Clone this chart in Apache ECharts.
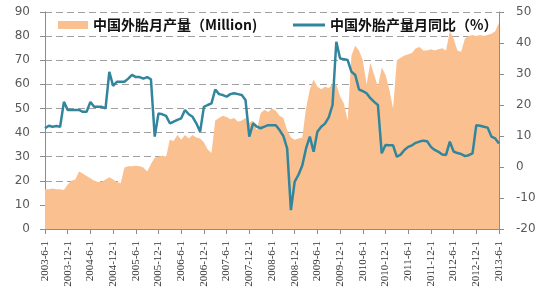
<!DOCTYPE html>
<html>
<head>
<meta charset="utf-8">
<script src="https://cdn.jsdelivr.net/npm/echarts@6/dist/echarts.min.js"></script>
<style>
html,body{margin:0;padding:0;background:#fff;}
#c{width:550px;height:300px;}
</style>
</head>
<body>
<div id="c"></div>
<script>
var categories = [
 '2003-6-1','2003-7-1','2003-8-1','2003-9-1','2003-10-1','2003-11-1','2003-12-1',
 '2004-1-1','2004-2-1','2004-3-1','2004-4-1','2004-5-1','2004-6-1','2004-7-1','2004-8-1','2004-9-1','2004-10-1','2004-11-1','2004-12-1',
 '2005-1-1','2005-2-1','2005-3-1','2005-4-1','2005-5-1','2005-6-1','2005-7-1','2005-8-1','2005-9-1','2005-10-1','2005-11-1','2005-12-1',
 '2006-1-1','2006-2-1','2006-3-1','2006-4-1','2006-5-1','2006-6-1','2006-7-1','2006-8-1','2006-9-1','2006-10-1','2006-11-1','2006-12-1',
 '2007-1-1','2007-2-1','2007-3-1','2007-4-1','2007-5-1','2007-6-1','2007-7-1','2007-8-1','2007-9-1','2007-10-1','2007-11-1','2007-12-1',
 '2008-1-1','2008-2-1','2008-3-1','2008-4-1','2008-5-1','2008-6-1','2008-7-1','2008-8-1','2008-9-1','2008-10-1','2008-11-1','2008-12-1',
 '2009-1-1','2009-2-1','2009-3-1','2009-4-1','2009-5-1','2009-6-1','2009-7-1','2009-8-1','2009-9-1','2009-10-1','2009-11-1','2009-12-1',
 '2010-1-1','2010-2-1','2010-3-1','2010-4-1','2010-5-1','2010-6-1','2010-7-1','2010-8-1','2010-9-1','2010-10-1','2010-11-1','2010-12-1',
 '2011-1-1','2011-2-1','2011-3-1','2011-4-1','2011-5-1','2011-6-1','2011-7-1','2011-8-1','2011-9-1','2011-10-1','2011-11-1','2011-12-1',
 '2012-1-1','2012-2-1','2012-3-1','2012-4-1','2012-5-1','2012-6-1','2012-7-1','2012-8-1','2012-9-1','2012-10-1','2012-11-1','2012-12-1',
 '2013-1-1','2013-2-1','2013-3-1','2013-4-1','2013-5-1','2013-6-1'
];

// monthly output, Million (left axis)
var production = [
 16.5,16.5,16.8,16.5,16.5,16.2,18.5,
 20,20.5,23.8,23,22,21,20,19.5,19.6,20.5,21.5,20.5,
 19.5,19,25.5,26,26,26.2,26,25.5,23.8,27,29.5,30,
 30.5,30,37,36.5,39,37,39,37.5,39,38,37.5,36,
 33,31.5,45,46,47,46.5,45.5,46,44.5,45,46,44,
 45,41,48,49.5,48.5,50,49,47,46,41,38,37,
 37.5,38,50,58,62,59,58,59,58.5,60,60,55,
 52,45,72,76,74,70,60,69,64,59,67,64,
 58,50,70,71,72,72.5,73,75,75.5,74,74,74.5,
 74,74.5,75,74,82,79,74,73.5,79,80,80.5,80,
 80.5,80,80.5,81,82,85.5
];

// year-on-year change, % (right axis)
var yoy = [
 12.5,13.3,13,13.2,13,21,18.4,
 18.4,18.4,18.4,17.8,17.8,21,19.4,19.4,19.4,18.9,30.7,26.2,
 27.5,27.5,27.5,28.5,29.7,29,29,28.5,29,28.3,9.8,17.3,
 17,16.5,14.1,14.6,15.2,15.7,18.4,17,16.2,14.1,11.4,19.4,
 20,20.5,25,23.5,23.2,22.7,23.5,23.8,23.5,23.2,21.6,9.8,
 14.1,13,12.5,13,13.5,13.5,13.5,11.9,10,6,-13.9,-4.7,
 -2.5,0.5,6,9.8,4.9,11.4,13,14,16,20,40.4,35,
 34.8,34.5,30.7,29.7,25,24.5,23.8,22.2,21,20,4.4,7.1,
 7,7,3.3,4,5.5,6.5,7,7.8,8.2,8.5,8.3,6.5,
 5.5,4.9,4,3.9,8.2,5,4.5,4.2,3.5,3.8,4.4,13.5,
 13.3,13,12.7,9.8,9.2,7.6
];

var leftTicks = {min: 0, max: 90, interval: 10};
var rightTicks = {min: -20, max: 50, interval: 10};
var seriesNames = ['中国外胎月产量（Million)', '中国外胎产量月同比（%）'];

var chart = echarts.init(document.getElementById('c'), null, {renderer: 'canvas'});
var axisGray = '#8c8c8c';
var labelColor = '#595959';
chart.setOption({
  animation: false,
  backgroundColor: '#ffffff',
  grid: {left: 45, right: 51, top: 12, bottom: 71, containLabel: false},
  legend: [
    {
      left: 53, top: 13, icon: 'rect', itemWidth: 30, itemHeight: 8, itemGap: 0,
      data: [seriesNames[0]],
      textStyle: {fontSize: 14, fontWeight: 'bold', color: '#111', fontFamily: 'Noto Sans CJK SC'}
    },
    {
      left: 288, top: 13, icon: 'rect', itemWidth: 32, itemHeight: 3, itemGap: 0,
      data: [seriesNames[1]],
      textStyle: {fontSize: 14, fontWeight: 'bold', color: '#111', fontFamily: 'Noto Sans CJK SC'}
    }
  ],
  xAxis: {
    type: 'category',
    data: categories,
    boundaryGap: false,
    axisLine: {lineStyle: {color: axisGray, width: 1}},
    axisTick: {interval: 5, length: 5, lineStyle: {color: axisGray}},
    axisLabel: {interval: 5, rotate: 90, margin: 12, fontSize: 11, color: '#333', fontFamily: 'Liberation Serif'},
    splitLine: {show: false}
  },
  yAxis: [
    {
      type: 'value', min: leftTicks.min, max: leftTicks.max, interval: leftTicks.interval,
      axisLine: {show: true, lineStyle: {color: axisGray}},
      axisTick: {show: true, length: 5, lineStyle: {color: axisGray}},
      axisLabel: {margin: 15, fontSize: 12, color: labelColor, fontFamily: 'DejaVu Sans'},
      splitLine: {show: true, lineStyle: {color: '#a0a0a0', type: [7, 4], width: 1.2}}
    },
    {
      type: 'value', min: rightTicks.min, max: rightTicks.max, interval: rightTicks.interval,
      position: 'right',
      axisLine: {show: true, lineStyle: {color: axisGray}},
      axisTick: {show: true, length: 5, lineStyle: {color: axisGray}},
      axisLabel: {margin: 17, fontSize: 12, color: labelColor, fontFamily: 'DejaVu Sans'},
      splitLine: {show: false}
    }
  ],
  series: [
    {
      name: seriesNames[0], type: 'line', yAxisIndex: 0, data: production,
      symbol: 'none', lineStyle: {width: 0, color: '#FAC090'},
      itemStyle: {color: '#FAC090'},
      areaStyle: {color: '#FAC090', opacity: 1},
      z: 2
    },
    {
      name: seriesNames[1], type: 'line', yAxisIndex: 1, data: yoy,
      symbol: 'none', lineStyle: {width: 2.5, color: '#31859C'},
      itemStyle: {color: '#31859C'},
      z: 3
    }
  ]
});
</script>
</body>
</html>
